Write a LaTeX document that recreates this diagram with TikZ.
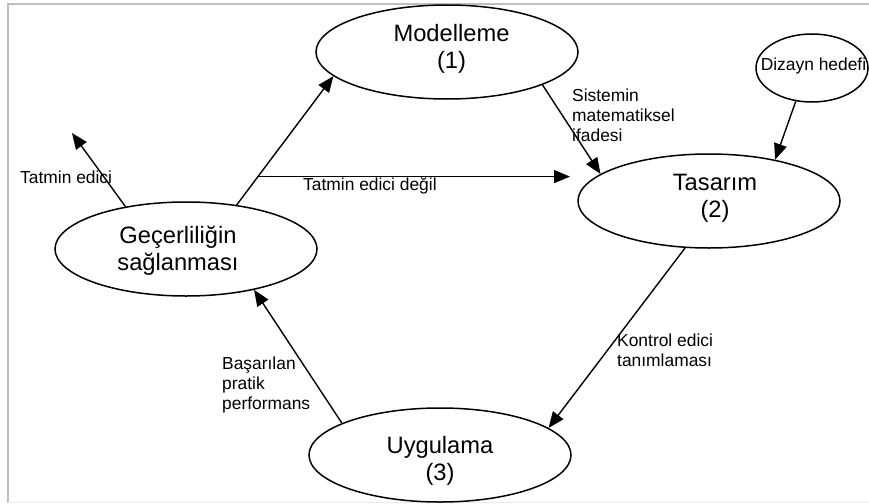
\documentclass[tikz,border=0pt]{standalone}
\usepackage{fontspec}
\setmainfont{Liberation Sans}
\usetikzlibrary{shapes.geometric,arrows.meta,calc}
\begin{document}
\begin{tikzpicture}[x=1pt,y=-1pt,
  stage/.style={ellipse,draw,line width=1.5pt,minimum width=262pt,minimum height=94pt,inner sep=0pt},
  stagetext/.style={inner sep=0pt,align=center,font=\fontsize{23.7}{27}\selectfont},
  flow/.style={line width=1.4pt,-{Triangle[length=16pt,width=13pt]}},
  note/.style={inner sep=0pt,align=left,font=\fontsize{17.4}{20}\selectfont}]
\useasboundingbox (0,0) rectangle (869,503);

% page frame
\draw[black!25,line width=2pt] (8,503) -- (8,4) -- (869,4);
\draw[black!8,line width=1pt] (8,502) -- (869,502);

% stages of the loop
\node[stage,label={[stagetext,xshift=4.5pt,yshift=3pt]center:Modelleme\\(1)}] (mo) at (447,52) {};
\node[stage,label={[stagetext,xshift=6pt,yshift=3pt]center:Tasarım\\(2)}] (ta) at (709,201) {};
\node[stage,label={[stagetext,xshift=-8pt,yshift=-1.5pt]center:Geçerliliğin\\sağlanması}] (ge) at (186,249) {};
\node[stage,label={[stagetext,yshift=-6pt]center:Uygulama\\(3)}] (uy) at (440,455) {};
\node[ellipse,draw,line width=1.5pt,minimum width=112pt,minimum height=68pt,inner sep=0pt,
  label={[note,xshift=1.5pt,yshift=2pt]center:Dizayn hedefi}] (dz) at (812,68) {};

% connectors
\coordinate (sat) at (72,133);
\draw[flow] (ge.145.7) -- (sat);
\draw[flow] (ge.41.9) -- (mo.-168.2);
\coordinate (br) at ($(ge.41.9)!0.22!(mo.-168.2)$);
\coordinate (ndend) at (570,177);
\draw[flow] (br) -- (br -| ndend);
\draw[flow] (mo.-19.3) -- (ta.166.3);
\draw[flow] (dz.-116.6) -- (ta.32.6);
\draw[flow] (ta.-117.5) -- (uy.14.6);
\draw[flow] (uy.162.3) -- (ge.-31.8);

% connector labels
\node[note,anchor=base west] (l1) at (20,183) {Tatmin edici};
\node[note,anchor=base west] (l2) at (303,190) {Tatmin edici değil};
\node[note,anchor=west] (l3) at (572,115.4) {Sistemin\\matematiksel\\ifadesi};
\node[note,anchor=west] (l4) at (617,350.3) {Kontrol edici\\tanımlaması};
\node[note,anchor=west] (l5) at (222,384.5) {Başarılan\\pratik\\performans};
\end{tikzpicture}
\end{document}
